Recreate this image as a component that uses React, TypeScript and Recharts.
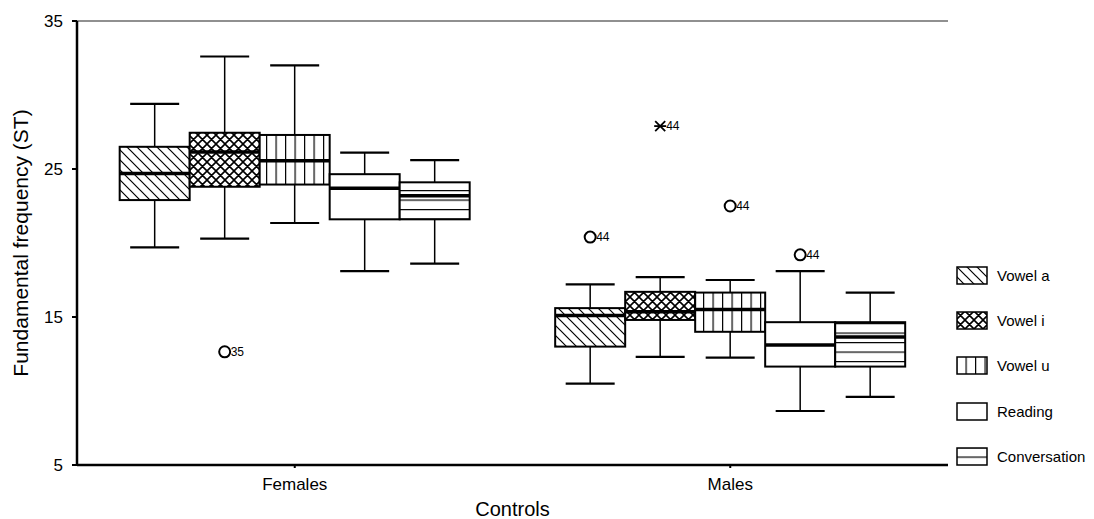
import {
  ComposedChart,
  Bar,
  XAxis,
  YAxis,
  ReferenceLine,
  Label,
} from "recharts";

// Box statistics per category: [lower whisker, Q1, median, Q3, upper whisker]
const categories = ["Females", "Males"];
const seriesNames = ["Vowel a", "Vowel i", "Vowel u", "Reading", "Conversation"];
const yTicks = [5, 15, 25, 35];

const vowelA = [
  [19.7, 22.9, 24.7, 26.5, 29.4],
  [10.5, 13.0, 15.1, 15.6, 17.2],
];
const vowelI = [
  [20.3, 23.8, 26.15, 27.45, 32.6],
  [12.3, 14.8, 15.35, 16.7, 17.7],
];
const vowelU = [
  [21.35, 23.95, 25.55, 27.3, 32.0],
  [12.25, 14.0, 15.5, 16.65, 17.5],
];
const reading = [
  [18.1, 21.6, 23.7, 24.65, 26.1],
  [8.65, 11.65, 13.1, 14.65, 18.1],
];
const conversation = [
  [18.6, 21.6, 23.2, 24.1, 25.6],
  [9.6, 11.65, 13.65, 14.65, 16.65],
];

// outliers: series index, category index, value, case label, marker kind
const outlierSeries = [1, 0, 1, 2, 3];
const outlierCategory = [0, 1, 1, 1, 1];
const outlierValues = [12.65, 20.4, 27.9, 22.5, 19.2];
const outlierLabels = ["35", "44", "44", "44", "44"];
const outlierKinds = ["o", "o", "*", "o", "o"];

const allStats = [vowelA, vowelI, vowelU, reading, conversation];
const seriesKeys = ["a", "i", "u", "r", "c"];
const fills = [
  "url(#patA)",
  "url(#patI)",
  "url(#patU)",
  "#ffffff",
  "url(#patC)",
];

const data = categories.map((name, ci) => {
  const row: Record<string, unknown> = { name };
  seriesKeys.forEach((k, si) => {
    const s = allStats[si][ci];
    row[k] = [s[0], s[4]];
  });
  return row;
});

function makeShape(si: number) {
  return function BoxShape(props: any) {
    const { x, width, y, height, index } = props;
    const s = allStats[si][index];
    const top = Math.min(y, y + height);
    const bottom = Math.max(y, y + height);
    // map value -> pixel using the bar's own scaled extent
    const py = (v: number) =>
      bottom - ((v - s[0]) / (s[4] - s[0])) * (bottom - top);
    const cx = x + width / 2;
    const cap = width * 0.35;
    const outs = outlierValues
      .map((v, oi) => ({ v, oi }))
      .filter(
        ({ oi }) => outlierSeries[oi] === si && outlierCategory[oi] === index
      );
    return (
      <g>
        <line x1={cx} x2={cx} y1={py(s[4])} y2={py(s[3])} stroke="#000" strokeWidth={1.5} />
        <line x1={cx} x2={cx} y1={py(s[1])} y2={py(s[0])} stroke="#000" strokeWidth={1.5} />
        <line x1={cx - cap} x2={cx + cap} y1={py(s[4])} y2={py(s[4])} stroke="#000" strokeWidth={2.2} />
        <line x1={cx - cap} x2={cx + cap} y1={py(s[0])} y2={py(s[0])} stroke="#000" strokeWidth={2.2} />
        <rect
          x={x}
          y={py(s[3])}
          width={width}
          height={py(s[1]) - py(s[3])}
          fill={fills[si]}
          stroke="#000"
          strokeWidth={2}
        />
        <line x1={x} x2={x + width} y1={py(s[2])} y2={py(s[2])} stroke="#000" strokeWidth={3.5} />
        {outs.map(({ v, oi }) => {
          const oy = py(v);
          return (
            <g key={oi}>
              {outlierKinds[oi] === "o" ? (
                <circle cx={cx} cy={oy} r={5.5} fill="none" stroke="#000" strokeWidth={2} />
              ) : (
                <g stroke="#000" strokeWidth={1.8}>
                  <line x1={cx - 6} x2={cx + 6} y1={oy} y2={oy} />
                  <line x1={cx - 5} x2={cx + 5} y1={oy - 5} y2={oy + 5} />
                  <line x1={cx - 5} x2={cx + 5} y1={oy + 5} y2={oy - 5} />
                </g>
              )}
              <text x={cx + 6} y={oy + 4} fontSize={12} fill="#000" stroke="none">
                {outlierLabels[oi]}
              </text>
            </g>
          );
        })}
      </g>
    );
  };
}

function Swatch({ fill }: { fill: string }) {
  return (
    <svg width={32} height={19} style={{ display: "block" }}>
      <rect x={1} y={1} width={30} height={17} fill={fill} stroke="#000" strokeWidth={1.5} />
    </svg>
  );
}

export default function App() {
  return (
    <div
      style={{
        position: "absolute",
        left: 0,
        top: 0,
        width: 1094,
        height: 519,
        background: "#fff",
        fontFamily: "'Liberation Sans', Arial, sans-serif",
      }}
    >
      <ComposedChart
        width={1094}
        height={519}
        data={data}
        margin={{ top: 21, right: 146, bottom: 0, left: 0 }}
        barCategoryGap="9.8%"
        barGap={0}
      >
        <defs>
          <pattern id="patA" patternUnits="userSpaceOnUse" width={10} height={10}>
            <rect width={10} height={10} fill="#fff" />
            <path d="M0,0 L10,10 M-2,8 L2,12 M8,-2 L12,2" stroke="#000" strokeWidth={1.2} />
          </pattern>
          <pattern id="patI" patternUnits="userSpaceOnUse" width={9} height={9}>
            <rect width={9} height={9} fill="#fff" />
            <path
              d="M0,0 L9,9 M-2,7 L2,11 M7,-2 L11,2 M9,0 L0,9 M-2,2 L2,-2 M7,11 L11,7"
              stroke="#000"
              strokeWidth={1.6}
            />
          </pattern>
          <pattern id="patU" patternUnits="userSpaceOnUse" width={9.5} height={10}>
            <rect width={9.5} height={10} fill="#fff" />
            <line x1={0.6} x2={0.6} y1={0} y2={10} stroke="#000" strokeWidth={1.2} />
          </pattern>
          <pattern id="patC" patternUnits="userSpaceOnUse" width={10} height={9.5}>
            <rect width={10} height={9.5} fill="#fff" />
            <line x1={0} x2={10} y1={0.6} y2={0.6} stroke="#000" strokeWidth={1.2} />
          </pattern>
        </defs>
        <XAxis
          dataKey="name"
          height={54}
          tick={{ fill: "#000", fontSize: 17 }}
          tickSize={3}
          tickMargin={10}
          tickLine={{ stroke: "#000", strokeWidth: 2 }}
          axisLine={{ stroke: "#000", strokeWidth: 2.5 }}
        >
          <Label
            value="Controls"
            position="insideBottom"
            offset={3}
            style={{ fill: "#000", fontSize: 20 }}
          />
        </XAxis>
        <YAxis
          type="number"
          domain={[5, 35]}
          ticks={yTicks}
          width={77}
          tick={{ fill: "#000", fontSize: 17 }}
          tickSize={5}
          tickMargin={9}
          tickLine={{ stroke: "#000", strokeWidth: 2 }}
          axisLine={{ stroke: "#000", strokeWidth: 2.5 }}
        >
          <Label
            value="Fundamental frequency (ST)"
            angle={-90}
            position="insideLeft"
            offset={21}
            style={{ fill: "#000", fontSize: 21, textAnchor: "middle" }}
          />
        </YAxis>
        <YAxis
          yAxisId="right"
          orientation="right"
          width={0}
          domain={[5, 35]}
          tick={false}
          tickLine={false}
          axisLine={{ stroke: "#000", strokeWidth: 2.5 }}
        />
        <ReferenceLine y={35} stroke="#222" strokeWidth={1.2} />
        {seriesKeys.map((k, si) => (
          <Bar
            key={k}
            dataKey={k}
            name={seriesNames[si]}
            shape={makeShape(si)}
            activeBar={false}
            isAnimationActive={false}
          />
        ))}
      </ComposedChart>
      <div style={{ position: "absolute", left: 956, top: 253 }}>
        {seriesNames.map((n, si) => (
          <div
            key={n}
            style={{
              display: "flex",
              alignItems: "center",
              height: 45.2,
              fontSize: 15,
              color: "#000",
            }}
          >
            <Swatch fill={fills[si]} />
            <span style={{ marginLeft: 9 }}>{n}</span>
          </div>
        ))}
      </div>
    </div>
  );
}
